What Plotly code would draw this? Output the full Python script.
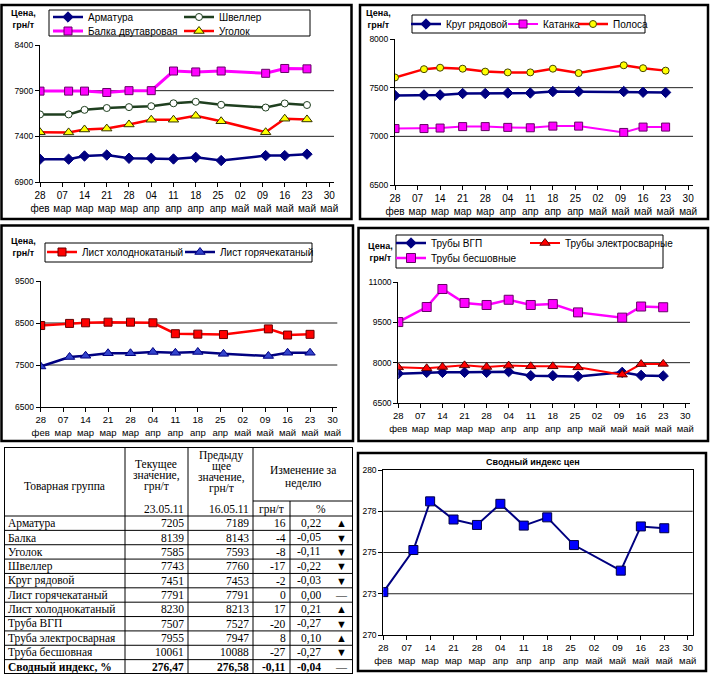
import plotly.graph_objects as go

W, H = 720, 678

# ---------------- data ----------------
dates = ["2011-02-28", "2011-03-09", "2011-03-14", "2011-03-21", "2011-03-28", "2011-04-04",
         "2011-04-11", "2011-04-18", "2011-04-26", "2011-05-10", "2011-05-16", "2011-05-23"]

tick_dates = ["2011-02-28", "2011-03-07", "2011-03-14", "2011-03-21", "2011-03-28", "2011-04-04",
              "2011-04-11", "2011-04-18", "2011-04-25", "2011-05-02", "2011-05-09", "2011-05-16",
              "2011-05-23", "2011-05-30"]
tick_days = ["28", "07", "14", "21", "28", "04", "11", "18", "25", "02", "09", "16", "23", "30"]
tick_months = ["фев", "мар", "мар", "мар", "мар", "апр", "апр", "апр", "апр", "май", "май", "май", "май", "май"]

armatura = [7150, 7150, 7185, 7195, 7160, 7160, 7152, 7170, 7135, 7189, 7189, 7205]
shveller = [7640, 7640, 7690, 7710, 7720, 7730, 7762, 7778, 7745, 7715, 7760, 7743]
balka = [7895, 7895, 7895, 7880, 7900, 7900, 8115, 8105, 8115, 8090, 8143, 8139]
ugolok = [7445, 7443, 7475, 7485, 7530, 7582, 7582, 7625, 7565, 7445, 7593, 7585]

krug = [7420, 7425, 7425, 7440, 7440, 7445, 7445, 7460, 7460, 7460, 7453, 7451]
katanka = [7080, 7080, 7085, 7100, 7100, 7092, 7088, 7105, 7105, 7040, 7095, 7095]
polosa = [7605, 7690, 7705, 7695, 7665, 7657, 7657, 7695, 7650, 7730, 7700, 7675]

list_cold = [8440, 8490, 8505, 8520, 8520, 8505, 8245, 8235, 8225, 8360, 8213, 8230]
list_hot = [7465, 7690, 7720, 7780, 7780, 7810, 7790, 7810, 7765, 7715, 7791, 7791]

pipe_vgp = [7590, 7640, 7640, 7640, 7640, 7665, 7515, 7515, 7490, 7640, 7527, 7507]
pipe_el = [7825, 7790, 7840, 7900, 7840, 7890, 7865, 7865, 7825, 7555, 7947, 7955]
pipe_seam = [9510, 10070, 10740, 10220, 10145, 10340, 10145, 10180, 9870, 9675, 10088, 10061]

price_index = [272.6, 275.15, 278.1, 277.0, 276.67, 277.95, 276.63, 277.13, 275.45, 273.9, 276.58, 276.47]

y_ticks_1 = [6900, 7400, 7900, 8400]
y_ticks_2 = [6500, 7000, 7500, 8000]
y_ticks_3 = [6500, 7500, 8500, 9500]
y_ticks_4 = [6500, 8000, 9500, 11000]
y_ticks_5 = [270, 272.5, 275, 277.5, 280]
y_ticktext_5 = ["270", "273", "275", "278", "280"]

table_names = ["Арматура", "Балка", "Уголок", "Швеллер", "Круг рядовой", "Лист горячекатаный",
               "Лист холоднокатаный", "Труба ВГП", "Труба электросварная", "Труба бесшовная",
               "Сводный индекс, %"]
table_current = [7205, 8139, 7585, 7743, 7451, 7791, 8230, 7507, 7955, 10061, 276.47]
table_previous = [7189, 8143, 7593, 7760, 7453, 7791, 8213, 7527, 7947, 10088, 276.58]
table_change = [16, -4, -8, -17, -2, 0, 17, -20, 8, -27, -0.11]
table_pct = [0.22, -0.05, -0.11, -0.22, -0.03, 0.00, 0.21, -0.27, 0.10, -0.27, -0.04]
table_arrow = ["▲", "▼", "▼", "▼", "▼", "—", "▲", "▼", "▲", "▼", "—"]
date_current = "23.05.11"
date_previous = "16.05.11"

# ---------------- helpers ----------------
def px_x(x):
    return x / W

def px_y(y):
    return 1 - y / H

NAVY = "#000080"
MAG = "#FF00FF"
RED = "#FF0000"
GREEN = "#1F3F1F"
YEL = "#FFFF00"
FONT = "Arial, Liberation Sans, sans-serif"
SERIF = "Times New Roman, Liberation Serif, serif"
XR = ["2011-02-28", "2011-05-31 12:00"]

layout = dict(
    width=W, height=H,
    margin=dict(l=0, r=0, t=0, b=0, autoexpand=False),
    paper_bgcolor="white", plot_bgcolor="white",
    showlegend=True,
    font=dict(family=FONT, color="black"),
)
shapes = []
annotations = []
traces = []

panels = [
    # n, x0, x1, ytop, ybottom, yrange, yticks, yticktext, grid, xfont, mirror
    (1, 40, 334, 45, 182, [6900, 8400], y_ticks_1, [str(v) for v in y_ticks_1], [7400, 7900], 10, False),
    (2, 395, 693, 39, 185, [6500, 8000], y_ticks_2, [str(v) for v in y_ticks_2], [7000, 7500], 10, False),
    (3, 40.7, 337.3, 281, 407, [6500, 9500], y_ticks_3, [str(v) for v in y_ticks_3], [7500, 8500], 9.5, False),
    (4, 398.3, 690, 282, 403, [6500, 11000], y_ticks_4, [str(v) for v in y_ticks_4], [8000, 9500], 9.5, False),
    (5, 383.3, 692.7, 470, 635, [270, 280], y_ticks_5, y_ticktext_5, [272.5, 275, 277.5], 9.5, True),
]

for n, x0, x1, yt, yb, yr, yticks, yttext, grid, xfs, mirror in panels:
    sx = "" if n == 1 else str(n)
    layout["xaxis" + sx] = dict(
        domain=[px_x(x0), px_x(x1)], anchor="y" + sx, type="date", range=XR,
        tickmode="array", tickvals=tick_dates,
        ticktext=[f"{d}<br>{m}" for d, m in zip(tick_days, tick_months)],
        tickangle=0, ticks="outside", ticklen=4, tickwidth=1, tickcolor="black",
        showline=True, linecolor="black", linewidth=1, mirror=mirror,
        showgrid=False, zeroline=False,
        tickfont=dict(family=FONT, size=xfs, color="black"), fixedrange=True,
    )
    layout["yaxis" + sx] = dict(
        domain=[px_y(yb), px_y(yt)], anchor="x" + sx, range=yr,
        tickmode="array", tickvals=yticks, ticktext=yttext,
        ticks="outside", ticklen=4, tickwidth=1, tickcolor="black",
        showline=True, linecolor="black", linewidth=1, mirror=mirror,
        showgrid=False, zeroline=False,
        tickfont=dict(family=FONT, size=8.5, color="black"), fixedrange=True,
    )
    for g in grid:
        shapes.append(dict(type="line", xref=f"x{sx} domain", yref="y" + sx,
                           x0=0, x1=1, y0=g, y1=g, layer="below",
                           line=dict(color="#222222", width=1)))

# ---------------- line traces with individual legends ----------------
legend_count = [0]

def add_series(name, y, n, color, width, symbol, msize, mfill, mline, leg_x, leg_ycenter):
    legend_count[0] += 1
    lid = "legend" if legend_count[0] == 1 else f"legend{legend_count[0]}"
    sx = "" if n == 1 else str(n)
    traces.append(go.Scatter(
        x=dates, y=y, name=name, mode="lines+markers",
        line=dict(color=color, width=width),
        marker=dict(symbol=symbol, size=msize, color=mfill, line=dict(color=mline, width=1)),
        xaxis="x" + sx, yaxis="y" + sx, legend=lid, showlegend=True, hoverinfo="skip",
    ))
    layout[lid] = dict(
        x=px_x(leg_x - 35), y=px_y(leg_ycenter - 14.5), xanchor="left", yanchor="top",
        bgcolor="rgba(0,0,0,0)", borderwidth=0, itemwidth=30,
        font=dict(family=FONT, size=10, color="black"),
    )

# top-left
add_series("Арматура", armatura, 1, NAVY, 2.5, "diamond", 8, NAVY, NAVY, 83, 17)
add_series("Швеллер", shveller, 1, GREEN, 2.5, "circle", 7, "white", GREEN, 214, 17)
add_series("Балка двутавровая", balka, 1, MAG, 3, "square", 8, MAG, "#660066", 83, 31)
add_series("Уголок", ugolok, 1, RED, 2.5, "triangle-up", 9, YEL, "#333300", 214, 31)
# top-right
add_series("Круг рядовой", krug, 2, NAVY, 2.5, "diamond", 8, NAVY, NAVY, 441, 24)
add_series("Катанка", katanka, 2, MAG, 2, "square", 8, MAG, "#660066", 538, 24)
add_series("Полоса", polosa, 2, RED, 2.5, "circle", 7, YEL, "#444400", 608, 24)
# middle-left
add_series("Лист холоднокатаный", list_cold, 3, RED, 2.5, "square", 8, RED, "#660000", 77, 252)
add_series("Лист горячекатаный", list_hot, 3, NAVY, 2.5, "triangle-up", 9, "#3344CC", NAVY, 215, 252)
# middle-right
add_series("Трубы ВГП", pipe_vgp, 4, NAVY, 2.5, "diamond", 8, NAVY, NAVY, 426, 243)
add_series("Трубы электросварные", pipe_el, 4, RED, 2, "triangle-up", 9, RED, "#550000", 560, 243)
add_series("Трубы бесшовные", pipe_seam, 4, MAG, 2.5, "square", 9, MAG, "#660066", 426, 258)

# bottom-right index
traces.append(go.Scatter(
    x=dates, y=price_index, name="Сводный индекс цен", mode="lines+markers",
    line=dict(color=NAVY, width=2),
    marker=dict(symbol="square", size=9, color="#0000FF", line=dict(color="#000040", width=1)),
    xaxis="x5", yaxis="y5", showlegend=False, hoverinfo="skip",
))

# legend frames
for (a, b, c, d) in [(49, 10, 310, 36), (412, 15, 645, 33), (45, 243, 312, 262), (396, 235, 663, 268)]:
    shapes.append(dict(type="rect", xref="paper", yref="paper",
                       x0=px_x(a), x1=px_x(c), y0=px_y(d), y1=px_y(b),
                       line=dict(color="black", width=1), fillcolor="rgba(0,0,0,0)"))

# panel borders
for (a, b, c, d) in [(1.5, 5, 351.5, 219), (360, 5, 708, 219), (1.5, 225.5, 353, 441),
                     (358.5, 228, 708, 441), (358, 453, 706, 671)]:
    shapes.append(dict(type="rect", xref="paper", yref="paper",
                       x0=px_x(a), x1=px_x(c), y0=px_y(d), y1=px_y(b),
                       line=dict(color="black", width=2.5), fillcolor="rgba(0,0,0,0)"))

# y-axis titles
for (cx, cy) in [(23, 19), (378, 19), (23, 246.5), (380, 251.5)]:
    annotations.append(dict(text="<b>Цена,<br>грн/т</b>", xref="paper", yref="paper",
                            x=px_x(cx), y=px_y(cy), xanchor="center", yanchor="middle",
                            showarrow=False, font=dict(family=FONT, size=9, color="black")))

annotations.append(dict(text="<b>Сводный индекс цен</b>", xref="paper", yref="paper",
                        x=px_x(533), y=px_y(462), xanchor="center", yanchor="middle",
                        showarrow=False, font=dict(family=FONT, size=9, color="black")))

# ---------------- table ----------------
T_TOP, T_BODY, T_BOT = 447, 516, 674
T_LEFT, T_RIGHT = 4, 353
NR = len(table_names)
RH = (T_BOT - T_BODY) / NR
col_edges = [T_LEFT, 125, 188, 253, 290, T_RIGHT]

def ty(ypx):
    return (ypx - T_BODY) / RH

layout["xaxis6"] = dict(domain=[px_x(T_LEFT), px_x(T_RIGHT)], range=[T_LEFT, T_RIGHT],
                        anchor="y6", visible=False, fixedrange=True)
layout["yaxis6"] = dict(domain=[px_y(T_BOT), px_y(T_TOP)], range=[NR, ty(T_TOP)],
                        anchor="x6", visible=False, fixedrange=True)
traces.append(go.Scatter(x=[T_LEFT], y=[0], mode="markers", marker=dict(size=1, opacity=0),
                         xaxis="x6", yaxis="y6", showlegend=False, hoverinfo="skip"))

def tline(x0, y0, x1, y1, w=1):
    shapes.append(dict(type="line", xref="x6", yref="y6", x0=x0, x1=x1, y0=y0, y1=y1,
                       line=dict(color="black", width=w)))

# vertical column lines
for cx in col_edges[1:4]:
    tline(cx, ty(T_TOP), cx, NR)
tline(col_edges[4], ty(501), col_edges[4], NR)
tline(col_edges[3], ty(501), T_RIGHT, ty(501))
for i in range(NR):
    tline(T_LEFT, i, T_RIGHT, i)
shapes.append(dict(type="rect", xref="x6", yref="y6", x0=T_LEFT, x1=T_RIGHT, y0=ty(T_TOP), y1=NR,
                   line=dict(color="black", width=2), fillcolor="rgba(0,0,0,0)"))

def tann(text, x, y, xa="center", size=11.5):
    annotations.append(dict(text=text, xref="x6", yref="y6", x=x, y=y, xanchor=xa, yanchor="middle",
                            showarrow=False, font=dict(family=SERIF, size=size, color="black")))

tann("Товарная группа", 64, ty(486))
for txt, yy in [("Текущее", 464), ("значение,", 475), ("грн/т", 486)]:
    tann(txt, 156, ty(yy))
for txt, yy in [("Предыду", 455), ("щее", 466), ("значение,", 477), ("грн/т", 488)]:
    tann(txt, 221, ty(yy))
tann("Изменение за", 303, ty(470))
tann("неделю", 303, ty(483))
tann(date_current, 186, ty(509), "right")
tann(date_previous, 251, ty(509), "right")
tann("грн/т", 271.5, ty(509))
tann("%", 321, ty(509))

def fmt(v, dec):
    return f"{v:.{dec}f}".replace(".", ",")

for i, name in enumerate(table_names):
    yc = i + 0.5
    last = i == NR - 1
    dec = 2 if last else 0
    b = (lambda s: f"<b>{s}</b>") if last else (lambda s: s)
    tann(b(name), 6, yc, "left")
    tann(b(fmt(table_current[i], dec)), 186, yc, "right")
    tann(b(fmt(table_previous[i], dec)), 251, yc, "right")
    tann(b(fmt(table_change[i], dec)), 288, yc, "right")
    tann(b(fmt(table_pct[i], 2)), 323, yc, "right")
    tann(table_arrow[i], 341, yc, "center", 11)

layout["shapes"] = shapes
layout["annotations"] = annotations

fig = go.Figure(data=traces, layout=layout)
fig.write_html("out.html")
